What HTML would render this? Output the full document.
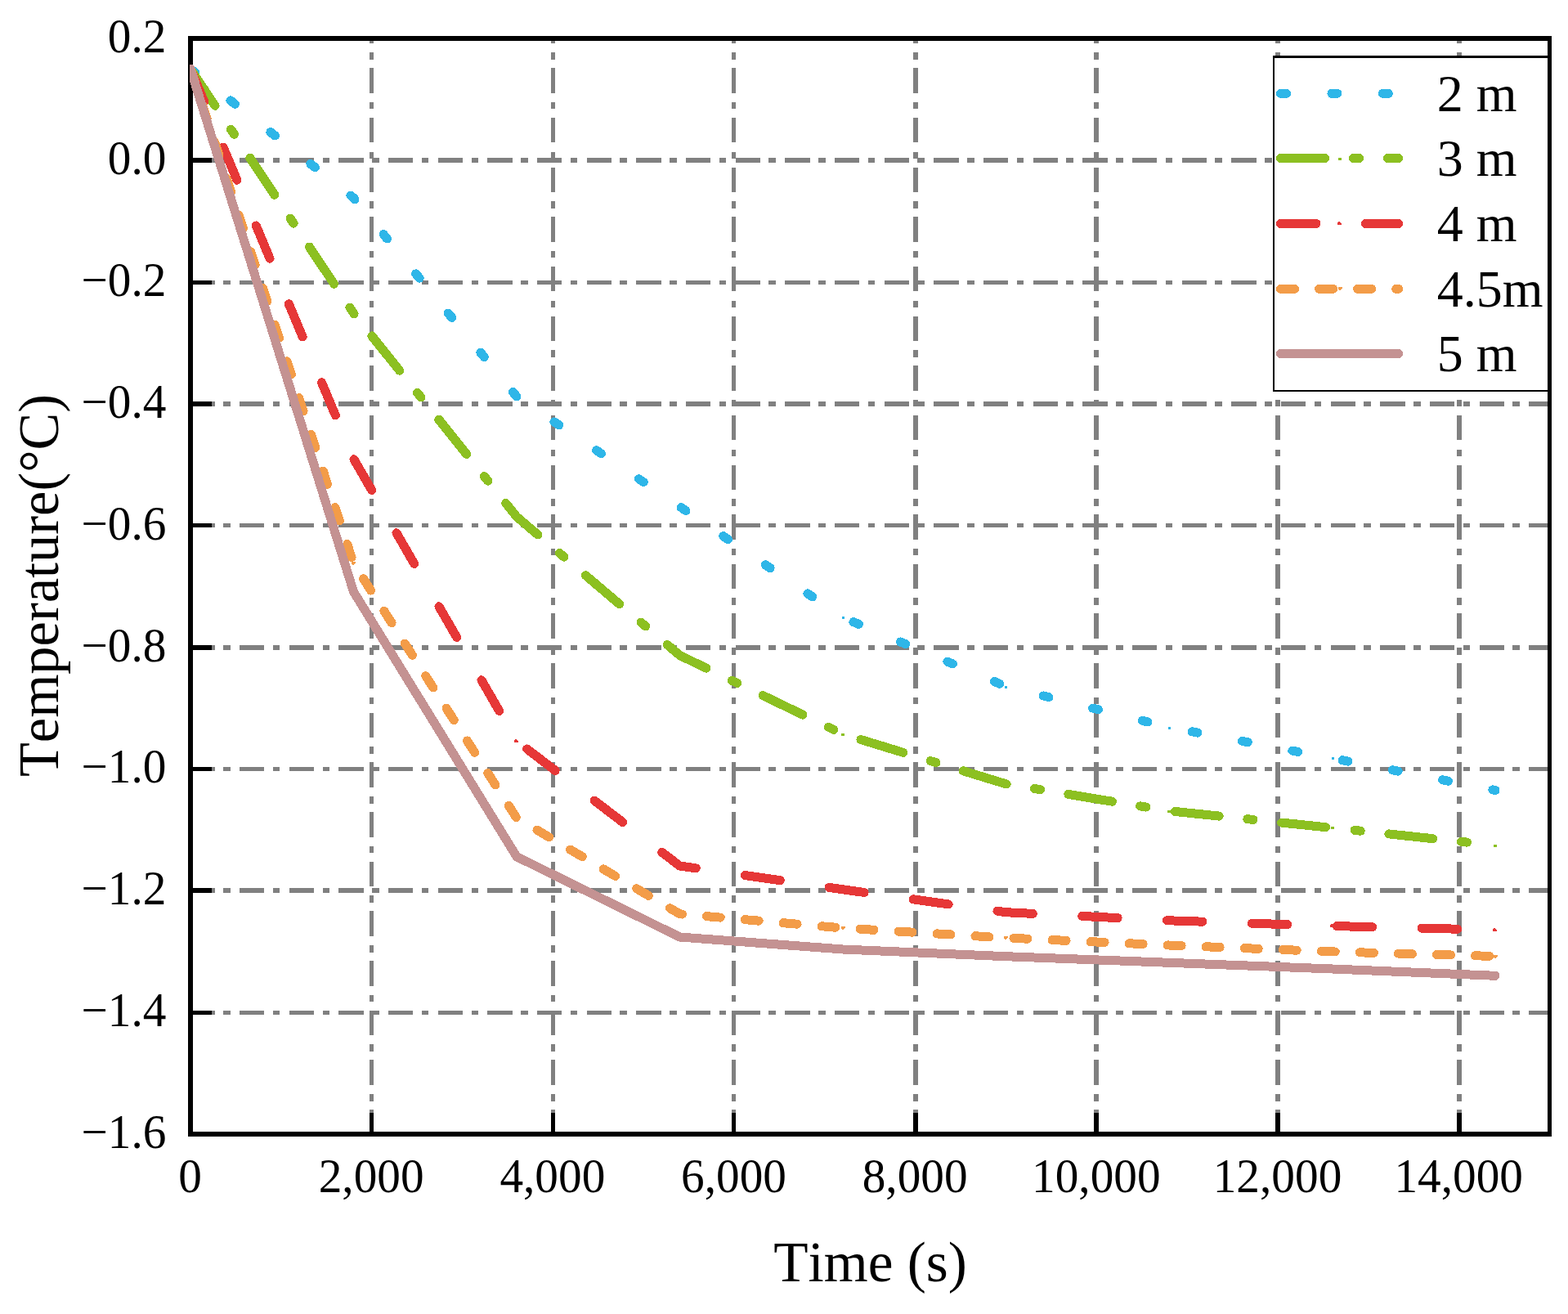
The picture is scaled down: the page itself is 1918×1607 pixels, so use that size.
<!DOCTYPE html>
<html lang="en"><head><meta charset="utf-8"><title>Temperature vs Time</title>
<style>html,body{margin:0;padding:0;background:#fff}body{width:1918px;height:1607px;overflow:hidden}svg{display:block}text{font-family:"Liberation Serif",serif;fill:#000;font-kerning:none}</style>
</head><body>
<svg width="1918" height="1607" viewBox="0 0 1918 1607" role="img" aria-label="Temperature versus time at depths of 2 m, 3 m, 4 m, 4.5 m and 5 m">
<rect width="1918" height="1607" fill="#fff"/>
<defs><clipPath id="plot"><rect x="232" y="44" width="1666" height="1346"/></clipPath></defs>
<g stroke="#808080" stroke-dasharray="30.4 10.4 8.6 11.26" shape-rendering="crispEdges" fill="none">
<line x1="454.5" y1="1387.5" x2="454.5" y2="47" stroke-width="5"/>
<line x1="676.5" y1="1387.5" x2="676.5" y2="47" stroke-width="5"/>
<line x1="897.5" y1="1387.5" x2="897.5" y2="47" stroke-width="5"/>
<line x1="1120" y1="1387.5" x2="1120" y2="47" stroke-width="6"/>
<line x1="1341" y1="1387.5" x2="1341" y2="47" stroke-width="6"/>
<line x1="1563" y1="1387.5" x2="1563" y2="47" stroke-width="6"/>
<line x1="1785" y1="1387.5" x2="1785" y2="47" stroke-width="6"/>
<line x1="232.4" y1="196" x2="1895" y2="196" stroke-width="6"/>
<line x1="232.4" y1="345.5" x2="1895" y2="345.5" stroke-width="5"/>
<line x1="232.4" y1="494" x2="1895" y2="494" stroke-width="6"/>
<line x1="232.4" y1="642.5" x2="1895" y2="642.5" stroke-width="5"/>
<line x1="232.4" y1="792" x2="1895" y2="792" stroke-width="6"/>
<line x1="232.4" y1="940.5" x2="1895" y2="940.5" stroke-width="5"/>
<line x1="232.4" y1="1089" x2="1895" y2="1089" stroke-width="6"/>
<line x1="232.4" y1="1238.5" x2="1895" y2="1238.5" stroke-width="5"/>
</g>
<g fill="#000" shape-rendering="crispEdges">
<rect x="230" y="44" width="6" height="1346"/>
<rect x="230" y="44" width="1668" height="6"/>
<rect x="230" y="1384" width="1668" height="6"/>
<rect x="1893" y="44" width="5" height="1346"/>
<rect x="452" y="1361" width="5" height="25"/>
<rect x="674" y="1361" width="5" height="25"/>
<rect x="895" y="1361" width="5" height="25"/>
<rect x="1117" y="1361" width="6" height="25"/>
<rect x="1338" y="1361" width="6" height="25"/>
<rect x="1560" y="1361" width="6" height="25"/>
<rect x="1782" y="1361" width="6" height="25"/>
<rect x="234" y="193" width="25" height="6"/>
<rect x="234" y="343" width="25" height="5"/>
<rect x="234" y="491" width="25" height="6"/>
<rect x="234" y="640" width="25" height="5"/>
<rect x="234" y="789" width="25" height="6"/>
<rect x="234" y="938" width="25" height="5"/>
<rect x="234" y="1086" width="25" height="6"/>
<rect x="234" y="1236" width="25" height="5"/>
</g>
<g clip-path="url(#plot)" shape-rendering="crispEdges">
<g fill="none" stroke-width="11" stroke-linecap="round" stroke-linejoin="round">
<polyline points="233,84.2 432.5,242 632,485 831.5,619.5 1031,755.2" stroke="#2eb6e8" stroke-dasharray="7 55.41"/>
<polyline points="1031,755.2 1230.5,839.5 1430,889.5 1629.5,927.3 1829,966.5" stroke="#2eb6e8" stroke-dasharray="7 55.41" stroke-dashoffset="48.39"/>
<polyline points="233,84.2 432.5,383" stroke="#8cc021" stroke-dasharray="54.2 34.8 7.2 34.8"/>
<polyline points="432.5,383 632,632" stroke="#8cc021" stroke-dasharray="54.2 34.8 7.2 34.8" stroke-dashoffset="95.28"/>
<polyline points="632,632 831.5,801.5" stroke="#8cc021" stroke-dasharray="54.2 34.8 7.2 34.8" stroke-dashoffset="20.34"/>
<polyline points="831.5,801.5 1031,897.8" stroke="#8cc021" stroke-dasharray="54.2 34.8 7.2 34.8" stroke-dashoffset="18.13"/>
<polyline points="1031,897.8 1230.5,958.8" stroke="#8cc021" stroke-dasharray="54.2 34.8 7.2 34.8" stroke-dashoffset="108.05"/>
<polyline points="1230.5,958.8 1430,991.7" stroke="#8cc021" stroke-dasharray="54.2 34.8 7.2 34.8" stroke-dashoffset="53.57"/>
<polyline points="1430,991.7 1629.5,1012.5" stroke="#8cc021" stroke-dasharray="54.2 34.8 7.2 34.8" stroke-dashoffset="123.66"/>
<polyline points="1629.5,1012.5 1829,1033.8" stroke="#8cc021" stroke-dasharray="54.2 34.8 7.2 34.8" stroke-dashoffset="61.25"/>
<polyline points="233,84.2 432.5,561" stroke="#e63737" stroke-dasharray="43.5 60.45"/>
<polyline points="432.5,561 632,906.3" stroke="#e63737" stroke-dasharray="43.5 60.45" stroke-dashoffset="103.05"/>
<polyline points="632,906.3 831.5,1059" stroke="#e63737" stroke-dasharray="43.5 60.45" stroke-dashoffset="88.04"/>
<polyline points="831.5,1059 1031,1087.8 1230.5,1115.7 1430,1125.8 1629.5,1132.5 1829,1137.3" stroke="#e63737" stroke-dasharray="43.5 60.45" stroke-dashoffset="23.43"/>
<polyline points="233,84.2 432.5,689 632,1000.5 831.5,1117.8 1031,1135 1230.5,1147 1430,1156 1629.5,1163.9 1829,1169.5" stroke="#f39c48" stroke-dasharray="17 30.08"/>
<polyline points="233,84.2 432.5,723.7 632,1047.7 831.5,1146 1031,1161 1230.5,1169.7 1430,1177.3 1629.5,1185 1829,1193.3" stroke="#c49292"/>
</g>
<rect x="430.5" y="240.5" width="3" height="3" fill="#2eb6e8"/>
<rect x="630.5" y="483.5" width="3" height="3" fill="#2eb6e8"/>
<rect x="830.5" y="618.5" width="3" height="3" fill="#2eb6e8"/>
<rect x="1029.5" y="753.5" width="3" height="3" fill="#2eb6e8"/>
<rect x="1228.5" y="838.5" width="3" height="3" fill="#2eb6e8"/>
<rect x="1428.5" y="888.5" width="3" height="3" fill="#2eb6e8"/>
<rect x="1628.5" y="925.5" width="3" height="3" fill="#2eb6e8"/>
<rect x="1827.5" y="964.5" width="3" height="3" fill="#2eb6e8"/>
<rect x="430" y="381.5" width="4" height="3" fill="#8cc021"/>
<rect x="630" y="630.5" width="4" height="3" fill="#8cc021"/>
<rect x="830" y="800.5" width="4" height="3" fill="#8cc021"/>
<rect x="1029" y="896.5" width="4" height="3" fill="#8cc021"/>
<rect x="1228" y="957.5" width="4" height="3" fill="#8cc021"/>
<rect x="1428" y="990.5" width="4" height="3" fill="#8cc021"/>
<rect x="1628" y="1010.5" width="4" height="3" fill="#8cc021"/>
<rect x="1827" y="1032.5" width="4" height="3" fill="#8cc021"/>
<path d="M429 563h5v-2h-1v-1h-1v-1h-2v1h-1z" fill="#e63737"/>
<path d="M629 908h5v-2h-1v-1h-1v-1h-2v1h-1z" fill="#e63737"/>
<path d="M829 1061h5v-2h-1v-1h-1v-1h-2v1h-1z" fill="#e63737"/>
<path d="M1028 1090h5v-2h-1v-1h-1v-1h-2v1h-1z" fill="#e63737"/>
<path d="M1227 1118h5v-2h-1v-1h-1v-1h-2v1h-1z" fill="#e63737"/>
<path d="M1427 1128h5v-2h-1v-1h-1v-1h-2v1h-1z" fill="#e63737"/>
<path d="M1627 1134h5v-2h-1v-1h-1v-1h-2v1h-1z" fill="#e63737"/>
<path d="M1826 1139h5v-2h-1v-1h-1v-1h-2v1h-1z" fill="#e63737"/>
<path d="M430 687h5v2h-1v1h-1v1h-2v-1h-1z" fill="#f39c48"/>
<path d="M630 998h5v2h-1v1h-1v1h-2v-1h-1z" fill="#f39c48"/>
<path d="M830 1116h5v2h-1v1h-1v1h-2v-1h-1z" fill="#f39c48"/>
<path d="M1029 1133h5v2h-1v1h-1v1h-2v-1h-1z" fill="#f39c48"/>
<path d="M1228 1145h5v2h-1v1h-1v1h-2v-1h-1z" fill="#f39c48"/>
<path d="M1428 1154h5v2h-1v1h-1v1h-2v-1h-1z" fill="#f39c48"/>
<path d="M1628 1162h5v2h-1v1h-1v1h-2v-1h-1z" fill="#f39c48"/>
<path d="M1827 1168h5v2h-1v1h-1v1h-2v-1h-1z" fill="#f39c48"/>
</g>
<g shape-rendering="crispEdges">
<rect x="1557" y="68" width="338" height="411" fill="#000"/>
<rect x="1559" y="71" width="336" height="406" fill="#fff"/>
<g fill="none" stroke-width="11" stroke-linecap="round">
<line x1="1566.5" y1="114.3" x2="1710.6" y2="114.3" stroke="#2eb6e8" stroke-dasharray="7 55.41"/>
<line x1="1566.5" y1="193.5" x2="1710.6" y2="193.5" stroke="#8cc021" stroke-dasharray="54.2 34.8 7.2 34.8"/>
<line x1="1566.5" y1="273.4" x2="1710.6" y2="273.4" stroke="#e63737" stroke-dasharray="43.5 60.45"/>
<line x1="1566.5" y1="353.3" x2="1710.6" y2="353.3" stroke="#f39c48" stroke-dasharray="17 30.08"/>
<line x1="1566.5" y1="432.6" x2="1710.6" y2="432.6" stroke="#c49292"/>
</g>
<rect x="1637.5" y="112.5" width="3" height="3" fill="#2eb6e8"/>
<rect x="1637" y="192.5" width="4" height="3" fill="#8cc021"/>
<path d="M1636 275h5v-2h-1v-1h-1v-1h-2v1h-1z" fill="#e63737"/>
<path d="M1637 351h5v2h-1v1h-1v1h-2v-1h-1z" fill="#f39c48"/>
<rect x="1893" y="44" width="5" height="1346" fill="#000"/>
</g>
<g font-size="64">
<text x="1757.8" y="135.9" xml:space="preserve">2 m</text>
<text x="1757.8" y="215.1" xml:space="preserve">3 m</text>
<text x="1757.8" y="295" xml:space="preserve">4 m</text>
<text x="1757.8" y="374.9" xml:space="preserve">4.5m</text>
<text x="1757.8" y="454.2" xml:space="preserve">5 m</text>
</g>
<g font-size="57.3">
<text transform="translate(232.5,1458.4) scale(1,1.025)" text-anchor="middle">0</text>
<text transform="translate(454.17,1458.4) scale(1,1.025)" text-anchor="middle">2,000</text>
<text transform="translate(675.83,1458.4) scale(1,1.025)" text-anchor="middle">4,000</text>
<text transform="translate(897.5,1458.4) scale(1,1.025)" text-anchor="middle">6,000</text>
<text transform="translate(1119.17,1458.4) scale(1,1.025)" text-anchor="middle">8,000</text>
<text transform="translate(1340.83,1458.4) scale(1,1.025)" text-anchor="middle">10,000</text>
<text transform="translate(1562.5,1458.4) scale(1,1.025)" text-anchor="middle">12,000</text>
<text transform="translate(1784.17,1458.4) scale(1,1.025)" text-anchor="middle">14,000</text>
<text transform="translate(203.5,64.1) scale(1,1.025)" text-anchor="end">0.2</text>
<text transform="translate(203.5,212.99) scale(1,1.025)" text-anchor="end">0.0</text>
<text transform="translate(203.5,361.88) scale(1,1.025)" text-anchor="end">−0.2</text>
<text transform="translate(203.5,510.77) scale(1,1.025)" text-anchor="end">−0.4</text>
<text transform="translate(203.5,659.66) scale(1,1.025)" text-anchor="end">−0.6</text>
<text transform="translate(203.5,808.54) scale(1,1.025)" text-anchor="end">−0.8</text>
<text transform="translate(203.5,957.43) scale(1,1.025)" text-anchor="end">−1.0</text>
<text transform="translate(203.5,1106.32) scale(1,1.025)" text-anchor="end">−1.2</text>
<text transform="translate(203.5,1255.21) scale(1,1.025)" text-anchor="end">−1.4</text>
<text transform="translate(203.5,1404.1) scale(1,1.025)" text-anchor="end">−1.6</text>
</g>
<text x="1064.5" y="1567" font-size="69.3" text-anchor="middle">Time (s)</text>
<text transform="translate(71,716) rotate(-90)" font-size="69.3" text-anchor="middle" textLength="468" lengthAdjust="spacingAndGlyphs">Temperature(°C)</text>
</svg>
</body></html>
